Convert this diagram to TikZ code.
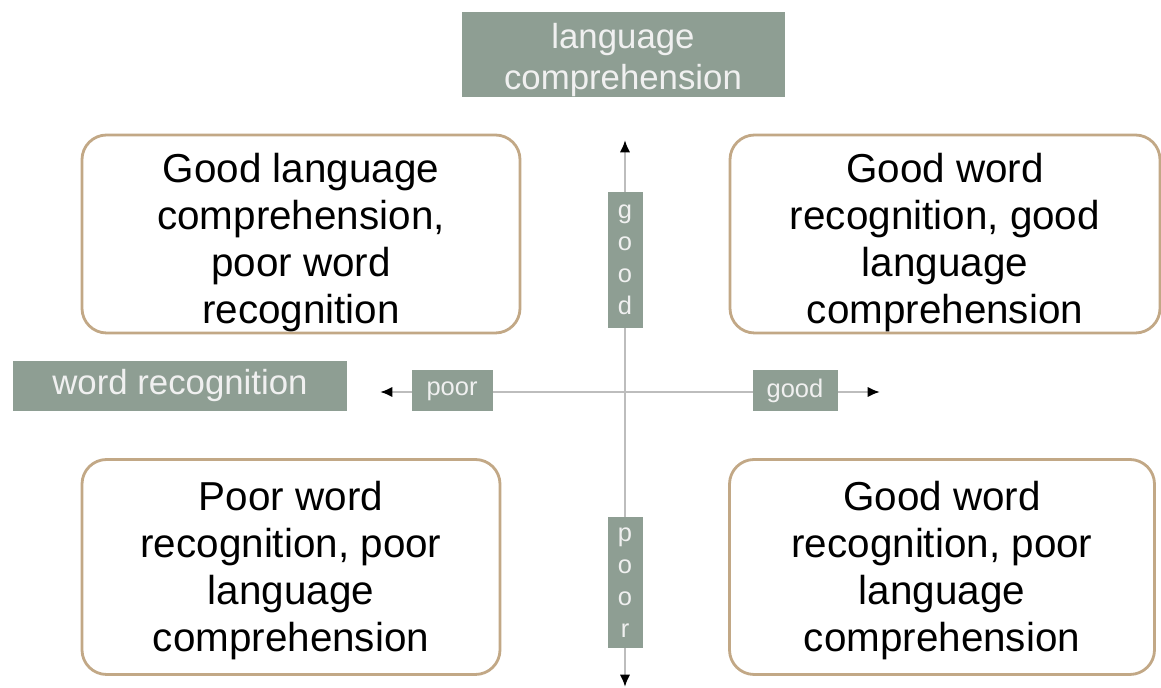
\documentclass[tikz,border=0pt]{standalone}
\usepackage{fontspec}
\setmainfont{Liberation Sans}
\usepackage{tikz}
\usetikzlibrary{arrows.meta}
\usepackage{xcolor}

\definecolor{sage}{HTML}{8E9E93}
\definecolor{tan}{HTML}{C2A886}
\definecolor{axisgray}{HTML}{BDBDBD}

\newcommand{\pxw}{0.02cm}
\newcommand{\toppad}[1]{\rule{0pt}{#1}}

\begin{document}
\begin{tikzpicture}[x=0.02cm, y=-0.02cm,
  quadbox/.style={draw=tan, line width=1.6pt, rounded corners=14pt, fill=white,
    align=center, inner sep=0pt,
    font=\fontsize{23}{26.8}\selectfont},
  tagbox/.style={fill=sage, text=white!94!black, inner sep=0pt, align=center,
    font=\fontsize{19.8}{23.2}\selectfont},
  smalltag/.style={tagbox, font=\fontsize{14.5}{18.2}\selectfont},
  axisline/.style={axisgray, line width=1.7pt,
    {Latex[black, length=7pt, width=6pt]}-{Latex[black, length=7pt, width=6pt]}}
]

\useasboundingbox (0,0) rectangle (1161,688);

% axes
\coordinate (vtop) at (625,140);
\coordinate (vbot) at (625,687);
\coordinate (hleft) at (380,392);
\coordinate (hright) at (880,392);

\draw[axisline] (vbot)--(vtop);
\draw[axisline] (hleft)--(hright);


% axis names
\node[tagbox, minimum width=323*\pxw, minimum height=85*\pxw] (compname) at (623,55)
{\toppad{20pt}language\\comprehension};

\node[tagbox, minimum width=334*\pxw, minimum height=50*\pxw] (wordname) at (180,386)
{word recognition};


% tags on the axes
\node[smalltag, minimum width=81*\pxw, minimum height=41*\pxw] (hpoor) at (452,391)
{poor};
\node[smalltag, minimum width=85*\pxw, minimum height=41*\pxw] (hgood) at (795,391)
{good};

\node[smalltag, minimum width=35*\pxw, minimum height=136*\pxw] (vgood) at (625,260)
{g\\o\\o\\d};
\node[smalltag, minimum width=35*\pxw, minimum height=131*\pxw] (vpoor) at (625,583)
{p\\o\\o\\r};


% the four quadrants
\node[quadbox, minimum width=438*\pxw, minimum height=198*\pxw] (topleft) at (301,234)
{\toppad{26pt}Good language\\comprehension,\\poor word\\recognition};

\node[quadbox, minimum width=430*\pxw, minimum height=198*\pxw] (topright) at (945,234)
{\toppad{26pt}Good word\\recognition, good\\language\\comprehension};

\node[quadbox, minimum width=418*\pxw, minimum height=215*\pxw] (botleft) at (291,567)
{\toppad{21pt}Poor word\\recognition, poor\\language\\comprehension};

\node[quadbox, minimum width=425*\pxw, minimum height=215*\pxw] (botright) at (942,567)
{\toppad{21pt}Good word\\recognition, poor\\language\\comprehension};

\end{tikzpicture}
\end{document}
